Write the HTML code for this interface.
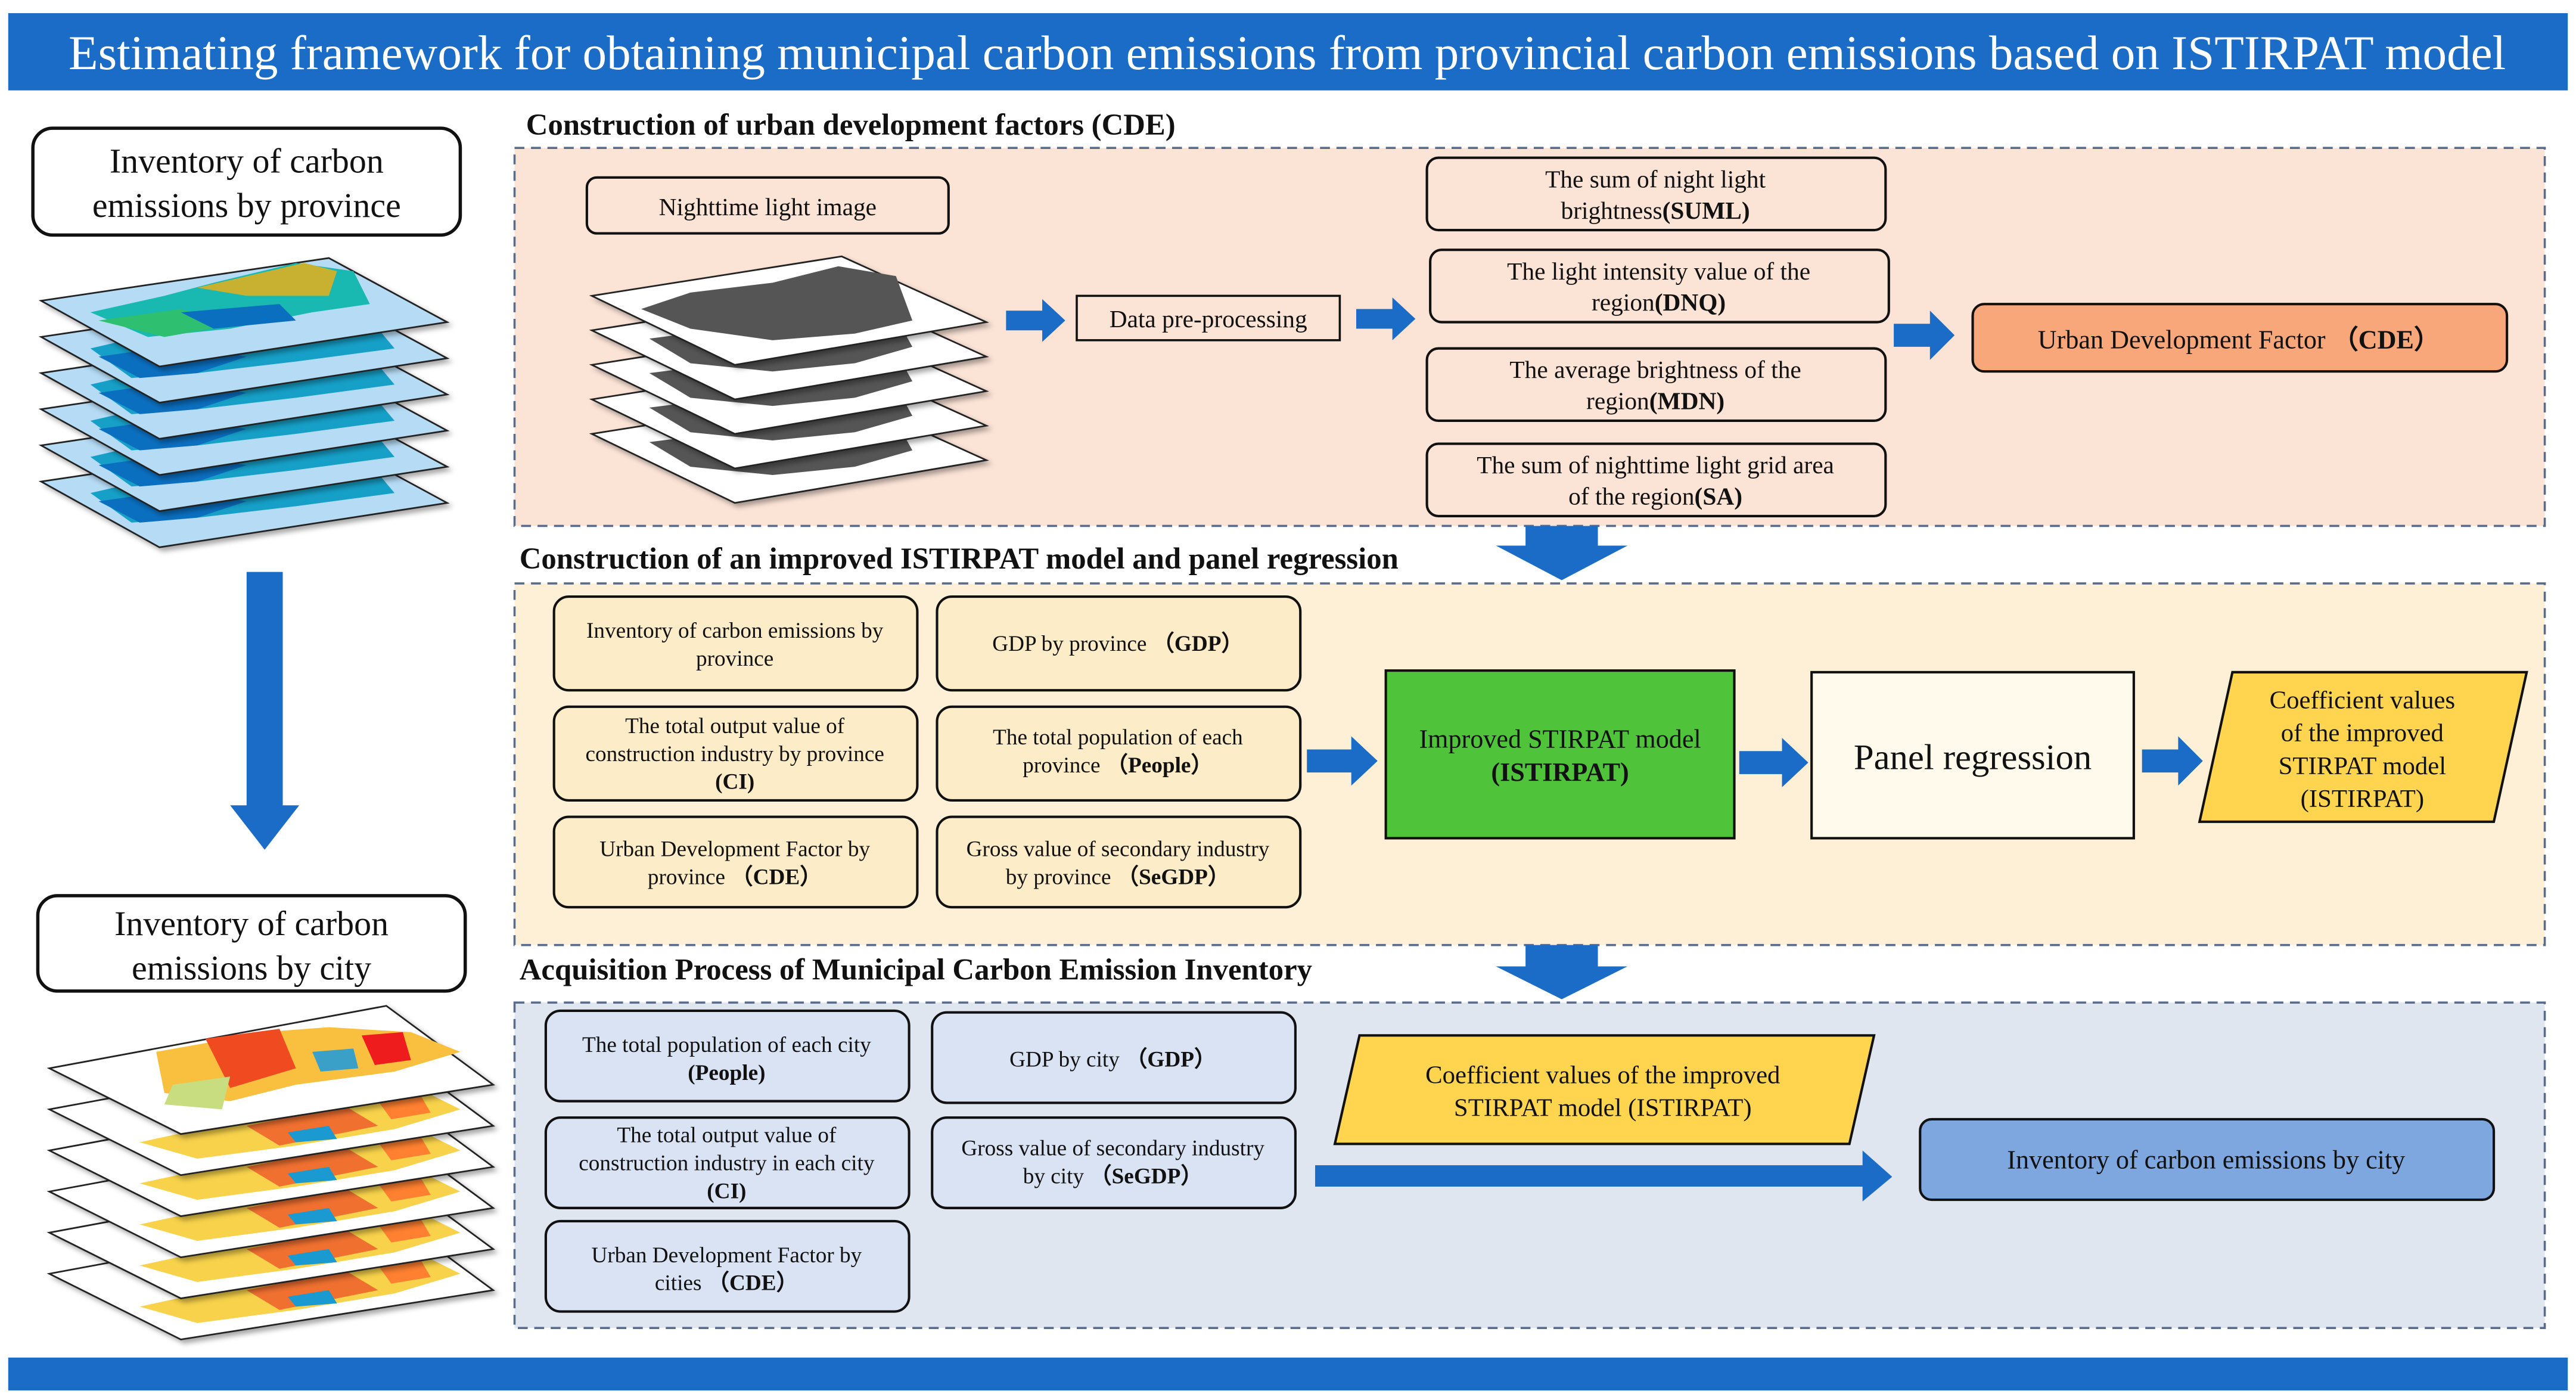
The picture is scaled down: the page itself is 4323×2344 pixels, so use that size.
<!DOCTYPE html>
<html><head><meta charset="utf-8"><style>
html,body{margin:0;padding:0;background:#fff;}
svg{display:block;}
text{font-family:"Liberation Serif",serif;fill:#111;}
</style></head><body>
<svg width="4323" height="2344" viewBox="0 0 1567 850" preserveAspectRatio="none" xmlns="http://www.w3.org/2000/svg">
<defs>
<filter id="sh" x="-10%" y="-10%" width="130%" height="140%"><feDropShadow dx="2" dy="2" stdDeviation="1.5" flood-color="#000" flood-opacity="0.35"/></filter>
<g id="prov">
<polygon points="25,183 200,157 272,196 97,223" fill="#b5dbf5" stroke="#222" stroke-width="1" filter="url(#sh)"/>
<polygon points="55,190 120,175 190,170 230,178 240,190 180,198 120,205 80,208" fill="#16a0c8"/>
<polygon points="60,195 110,188 150,195 120,205 85,208" fill="#0b6fc0"/>
</g>
<g id="provtop">
<polygon points="25,183 200,157 272,196 97,223" fill="#b5dbf5" stroke="#222" stroke-width="1" filter="url(#sh)"/>
<polygon points="55,190 100,180 130,172 180,160 215,165 225,185 190,190 140,200 90,205" fill="#19b8b0"/>
<polygon points="120,175 185,160 205,165 200,180 150,180" fill="#c8b030"/>
<polygon points="60,195 110,188 140,198 100,205" fill="#2ec070"/>
<polygon points="110,190 170,185 180,195 130,200" fill="#0b6fc0"/>
</g>
<g id="gray">
<polygon points="360,180 512,156 600,196 447,222" fill="#fff" stroke="#222" stroke-width="1" filter="url(#sh)"/>
<polygon points="395,185 450,178 500,168 545,172 555,190 520,200 470,205 420,200" fill="#555"/>
</g>
<g id="grayt">
<polygon points="360,180 512,156 600,196 447,222" fill="#fff" stroke="#222" stroke-width="1" filter="url(#sh)"/>
<polygon points="390,188 420,178 470,172 510,162 545,168 555,195 520,203 470,207 420,200" fill="#555"/>
</g>
<g id="city">
<polygon points="30,650 235,612 300,660 110,690" fill="#fff" stroke="#222" stroke-width="1" filter="url(#sh)"/>
<polygon points="85,670 140,658 200,648 260,640 280,650 240,662 180,672 120,680" fill="#f7d24a"/>
<polygon points="150,660 210,648 230,660 170,672" fill="#f07030"/>
<polygon points="175,664 200,660 205,668 180,670" fill="#1a9ad0"/>
<polygon points="230,645 255,640 262,652 238,656" fill="#ff8030"/>
</g>
<g id="cityt">
<polygon points="30,650 235,612 300,660 110,690" fill="#fff" stroke="#222" stroke-width="1" filter="url(#sh)"/>
<polygon points="95,640 140,632 160,628 200,625 250,628 280,640 240,652 180,660 140,670 100,665" fill="#f9c040"/>
<polygon points="125,632 170,626 180,650 140,662" fill="#f04a20"/>
<polygon points="220,630 245,628 250,645 228,648" fill="#ee1c1c"/>
<polygon points="190,640 215,638 218,650 195,652" fill="#3aa0c8"/>
<polygon points="105,660 140,655 135,675 100,672" fill="#c8dc80"/>
</g>
</defs>

<rect x="5" y="8" width="1557" height="47" fill="#1a6cc6"/>
<text x="783" y="42" text-anchor="middle" font-size="29.4" style="fill:#fff">Estimating framework for obtaining municipal carbon emissions from provincial carbon emissions based on ISTIRPAT model</text>
<rect x="5" y="826" width="1557" height="20" fill="#1a6cc6"/>

<rect x="20" y="78" width="260" height="65" rx="12" fill="#fff" stroke="#111" stroke-width="2"/>
<text x="150" y="105" text-anchor="middle" font-size="21">Inventory of carbon</text>
<text x="150" y="132" text-anchor="middle" font-size="21">emissions by province</text>

<use href="#prov" transform="translate(0,110)"/>
<use href="#prov" transform="translate(0,88)"/>
<use href="#prov" transform="translate(0,66)"/>
<use href="#prov" transform="translate(0,44)"/>
<use href="#prov" transform="translate(0,22)"/>
<use href="#provtop"/>

<polygon points="150,348 172,348 172,490 182,490 161,517 140,490 150,490" fill="#1a6cc6"/>

<rect x="23" y="545" width="260" height="58" rx="12" fill="#fff" stroke="#111" stroke-width="2"/>
<text x="153" y="569" text-anchor="middle" font-size="21">Inventory of carbon</text>
<text x="153" y="596" text-anchor="middle" font-size="21">emissions by city</text>

<use href="#city" transform="translate(0,125)"/>
<use href="#city" transform="translate(0,100)"/>
<use href="#city" transform="translate(0,75)"/>
<use href="#city" transform="translate(0,50)"/>
<use href="#city" transform="translate(0,25)"/>
<use href="#cityt"/>

<text x="320" y="82" font-size="18.4" font-weight="bold">Construction of urban development factors (CDE)</text>
<rect x="313" y="90" width="1235" height="230" fill="#fbe3d6" stroke="#5a6c8c" stroke-width="1.3" stroke-dasharray="6,4"/>
<rect x="357" y="108" width="220" height="34" rx="6" fill="#fbe3d6" stroke="#111" stroke-width="1.5"/>
<text x="467" y="131" text-anchor="middle" font-size="15">Nighttime light image</text>
<use href="#gray" transform="translate(0,84)"/>
<use href="#gray" transform="translate(0,63)"/>
<use href="#gray" transform="translate(0,42)"/>
<use href="#gray" transform="translate(0,21)"/>
<use href="#grayt"/>
<polygon points="612,189 634,189 634,182 648,195 634,208 634,201 612,201" fill="#1a6cc6"/>
<rect x="655" y="180" width="160" height="27" fill="#fbe3d6" stroke="#111" stroke-width="1.3"/>
<text x="735" y="199" text-anchor="middle" font-size="15">Data pre-processing</text>
<polygon points="825,188 847,188 847,181 861,194 847,207 847,200 825,200" fill="#1a6cc6"/>

<rect x="868" y="96" width="279" height="44" rx="7" fill="#fbe3d6" stroke="#111" stroke-width="1.5"/>
<text x="1007" y="114" text-anchor="middle" font-size="15">The sum of night light</text>
<text x="1007" y="133" text-anchor="middle" font-size="15">brightness<tspan font-weight="bold">(SUML)</tspan></text>
<rect x="870" y="152" width="279" height="44" rx="7" fill="#fbe3d6" stroke="#111" stroke-width="1.5"/>
<text x="1009" y="170" text-anchor="middle" font-size="15">The light intensity value of the</text>
<text x="1009" y="189" text-anchor="middle" font-size="15">region<tspan font-weight="bold">(DNQ)</tspan></text>
<rect x="868" y="212" width="279" height="44" rx="7" fill="#fbe3d6" stroke="#111" stroke-width="1.5"/>
<text x="1007" y="230" text-anchor="middle" font-size="15">The average brightness of the</text>
<text x="1007" y="249" text-anchor="middle" font-size="15">region<tspan font-weight="bold">(MDN)</tspan></text>
<rect x="868" y="270" width="279" height="44" rx="7" fill="#fbe3d6" stroke="#111" stroke-width="1.5"/>
<text x="1007" y="288" text-anchor="middle" font-size="15">The sum of nighttime light grid area</text>
<text x="1007" y="307" text-anchor="middle" font-size="15">of the region<tspan font-weight="bold">(SA)</tspan></text>

<polygon points="1152,197 1174,197 1174,189 1189,204 1174,219 1174,211 1152,211" fill="#1a6cc6"/>
<rect x="1200" y="185" width="325" height="41" rx="7" fill="#f8a77a" stroke="#111" stroke-width="1.5"/>
<text x="1362" y="212" text-anchor="middle" font-size="16">Urban Development Factor <tspan font-weight="bold">（CDE）</tspan></text>

<polygon points="928,320 972,320 972,332 990,332 950,353 910,332 928,332" fill="#1a6cc6"/>

<text x="316" y="346" font-size="18.4" font-weight="bold">Construction of an improved ISTIRPAT model and panel regression</text>
<rect x="313" y="355" width="1235" height="220" fill="#fdf0d6" stroke="#5a6c8c" stroke-width="1.3" stroke-dasharray="6,4"/>
<g font-size="13.5">
<rect x="337" y="363" width="221" height="57" rx="9" fill="#fdecc8" stroke="#111" stroke-width="1.5"/>
<text x="447" y="388" text-anchor="middle">Inventory of carbon emissions by</text>
<text x="447" y="405" text-anchor="middle">province</text>
<rect x="570" y="363" width="221" height="57" rx="9" fill="#fdecc8" stroke="#111" stroke-width="1.5"/>
<text x="680" y="396" text-anchor="middle">GDP by province <tspan font-weight="bold">（GDP）</tspan></text>
<rect x="337" y="430" width="221" height="57" rx="9" fill="#fdecc8" stroke="#111" stroke-width="1.5"/>
<text x="447" y="446" text-anchor="middle">The total output value of</text>
<text x="447" y="463" text-anchor="middle">construction industry by province</text>
<text x="447" y="480" text-anchor="middle" font-weight="bold">(CI)</text>
<rect x="570" y="430" width="221" height="57" rx="9" fill="#fdecc8" stroke="#111" stroke-width="1.5"/>
<text x="680" y="453" text-anchor="middle">The total population of each</text>
<text x="680" y="470" text-anchor="middle">province <tspan font-weight="bold">（People）</tspan></text>
<rect x="337" y="497" width="221" height="55" rx="9" fill="#fdecc8" stroke="#111" stroke-width="1.5"/>
<text x="447" y="521" text-anchor="middle">Urban Development Factor by</text>
<text x="447" y="538" text-anchor="middle">province <tspan font-weight="bold">（CDE）</tspan></text>
<rect x="570" y="497" width="221" height="55" rx="9" fill="#fdecc8" stroke="#111" stroke-width="1.5"/>
<text x="680" y="521" text-anchor="middle">Gross value of secondary industry</text>
<text x="680" y="538" text-anchor="middle">by province <tspan font-weight="bold">（SeGDP）</tspan></text>
</g>
<polygon points="795,456 822,456 822,448 838,463 822,478 822,470 795,470" fill="#1a6cc6"/>
<rect x="843" y="408" width="212" height="102" fill="#4fc43a" stroke="#111" stroke-width="1.5"/>
<text x="949" y="455" text-anchor="middle" font-size="16">Improved STIRPAT model</text>
<text x="949" y="475" text-anchor="middle" font-size="16" font-weight="bold">(ISTIRPAT)</text>
<polygon points="1058,457 1084,457 1084,449 1100,464 1084,479 1084,471 1058,471" fill="#1a6cc6"/>
<rect x="1102" y="409" width="196" height="101" fill="#fffaec" stroke="#111" stroke-width="1.5"/>
<text x="1200" y="468" text-anchor="middle" font-size="22">Panel regression</text>
<polygon points="1303,456 1325,456 1325,448 1340,463 1325,478 1325,470 1303,470" fill="#1a6cc6"/>
<polygon points="1358,409 1537,409 1517,500 1338,500" fill="#ffd44f" stroke="#111" stroke-width="1.5"/>
<g font-size="15.5" text-anchor="middle">
<text x="1437" y="431">Coefficient values</text>
<text x="1437" y="451">of the improved</text>
<text x="1437" y="471">STIRPAT model</text>
<text x="1437" y="491">(ISTIRPAT)</text>
</g>

<polygon points="928,575 972,575 972,588 990,588 950,608 910,588 928,588" fill="#1a6cc6"/>

<text x="316" y="596" font-size="18.4" font-weight="bold">Acquisition Process of Municipal Carbon Emission Inventory</text>
<rect x="313" y="610" width="1235" height="198" fill="#dfe6f0" stroke="#5a6c8c" stroke-width="1.3" stroke-dasharray="6,4"/>
<g font-size="13.5">
<rect x="332" y="615" width="221" height="55" rx="9" fill="#dae3f3" stroke="#111" stroke-width="1.5"/>
<text x="442" y="640" text-anchor="middle">The total population of each city</text>
<text x="442" y="657" text-anchor="middle" font-weight="bold">(People)</text>
<rect x="567" y="616" width="221" height="55" rx="9" fill="#dae3f3" stroke="#111" stroke-width="1.5"/>
<text x="677" y="649" text-anchor="middle">GDP by city <tspan font-weight="bold">（GDP）</tspan></text>
<rect x="332" y="680" width="221" height="55" rx="9" fill="#dae3f3" stroke="#111" stroke-width="1.5"/>
<text x="442" y="695" text-anchor="middle">The total output value of</text>
<text x="442" y="712" text-anchor="middle">construction industry in each city</text>
<text x="442" y="729" text-anchor="middle" font-weight="bold">(CI)</text>
<rect x="567" y="680" width="221" height="55" rx="9" fill="#dae3f3" stroke="#111" stroke-width="1.5"/>
<text x="677" y="703" text-anchor="middle">Gross value of secondary industry</text>
<text x="677" y="720" text-anchor="middle">by city <tspan font-weight="bold">（SeGDP）</tspan></text>
<rect x="332" y="743" width="221" height="55" rx="9" fill="#dae3f3" stroke="#111" stroke-width="1.5"/>
<text x="442" y="768" text-anchor="middle">Urban Development Factor by</text>
<text x="442" y="785" text-anchor="middle">cities <tspan font-weight="bold">（CDE）</tspan></text>
</g>
<polygon points="827,630 1140,630 1125,696 812,696" fill="#ffd44f" stroke="#111" stroke-width="1.5"/>
<text x="975" y="659" text-anchor="middle" font-size="15.5">Coefficient values of the improved</text>
<text x="975" y="679" text-anchor="middle" font-size="15.5">STIRPAT model (ISTIRPAT)</text>
<polygon points="800,709 1133,709 1133,700 1151,716 1133,731 1133,722 800,722" fill="#1a6cc6"/>
<rect x="1168" y="681" width="349" height="49" rx="7" fill="#7ea7df" stroke="#111" stroke-width="1.5"/>
<text x="1342" y="711" text-anchor="middle" font-size="16">Inventory of carbon emissions by city</text>
</svg>
</body></html>
